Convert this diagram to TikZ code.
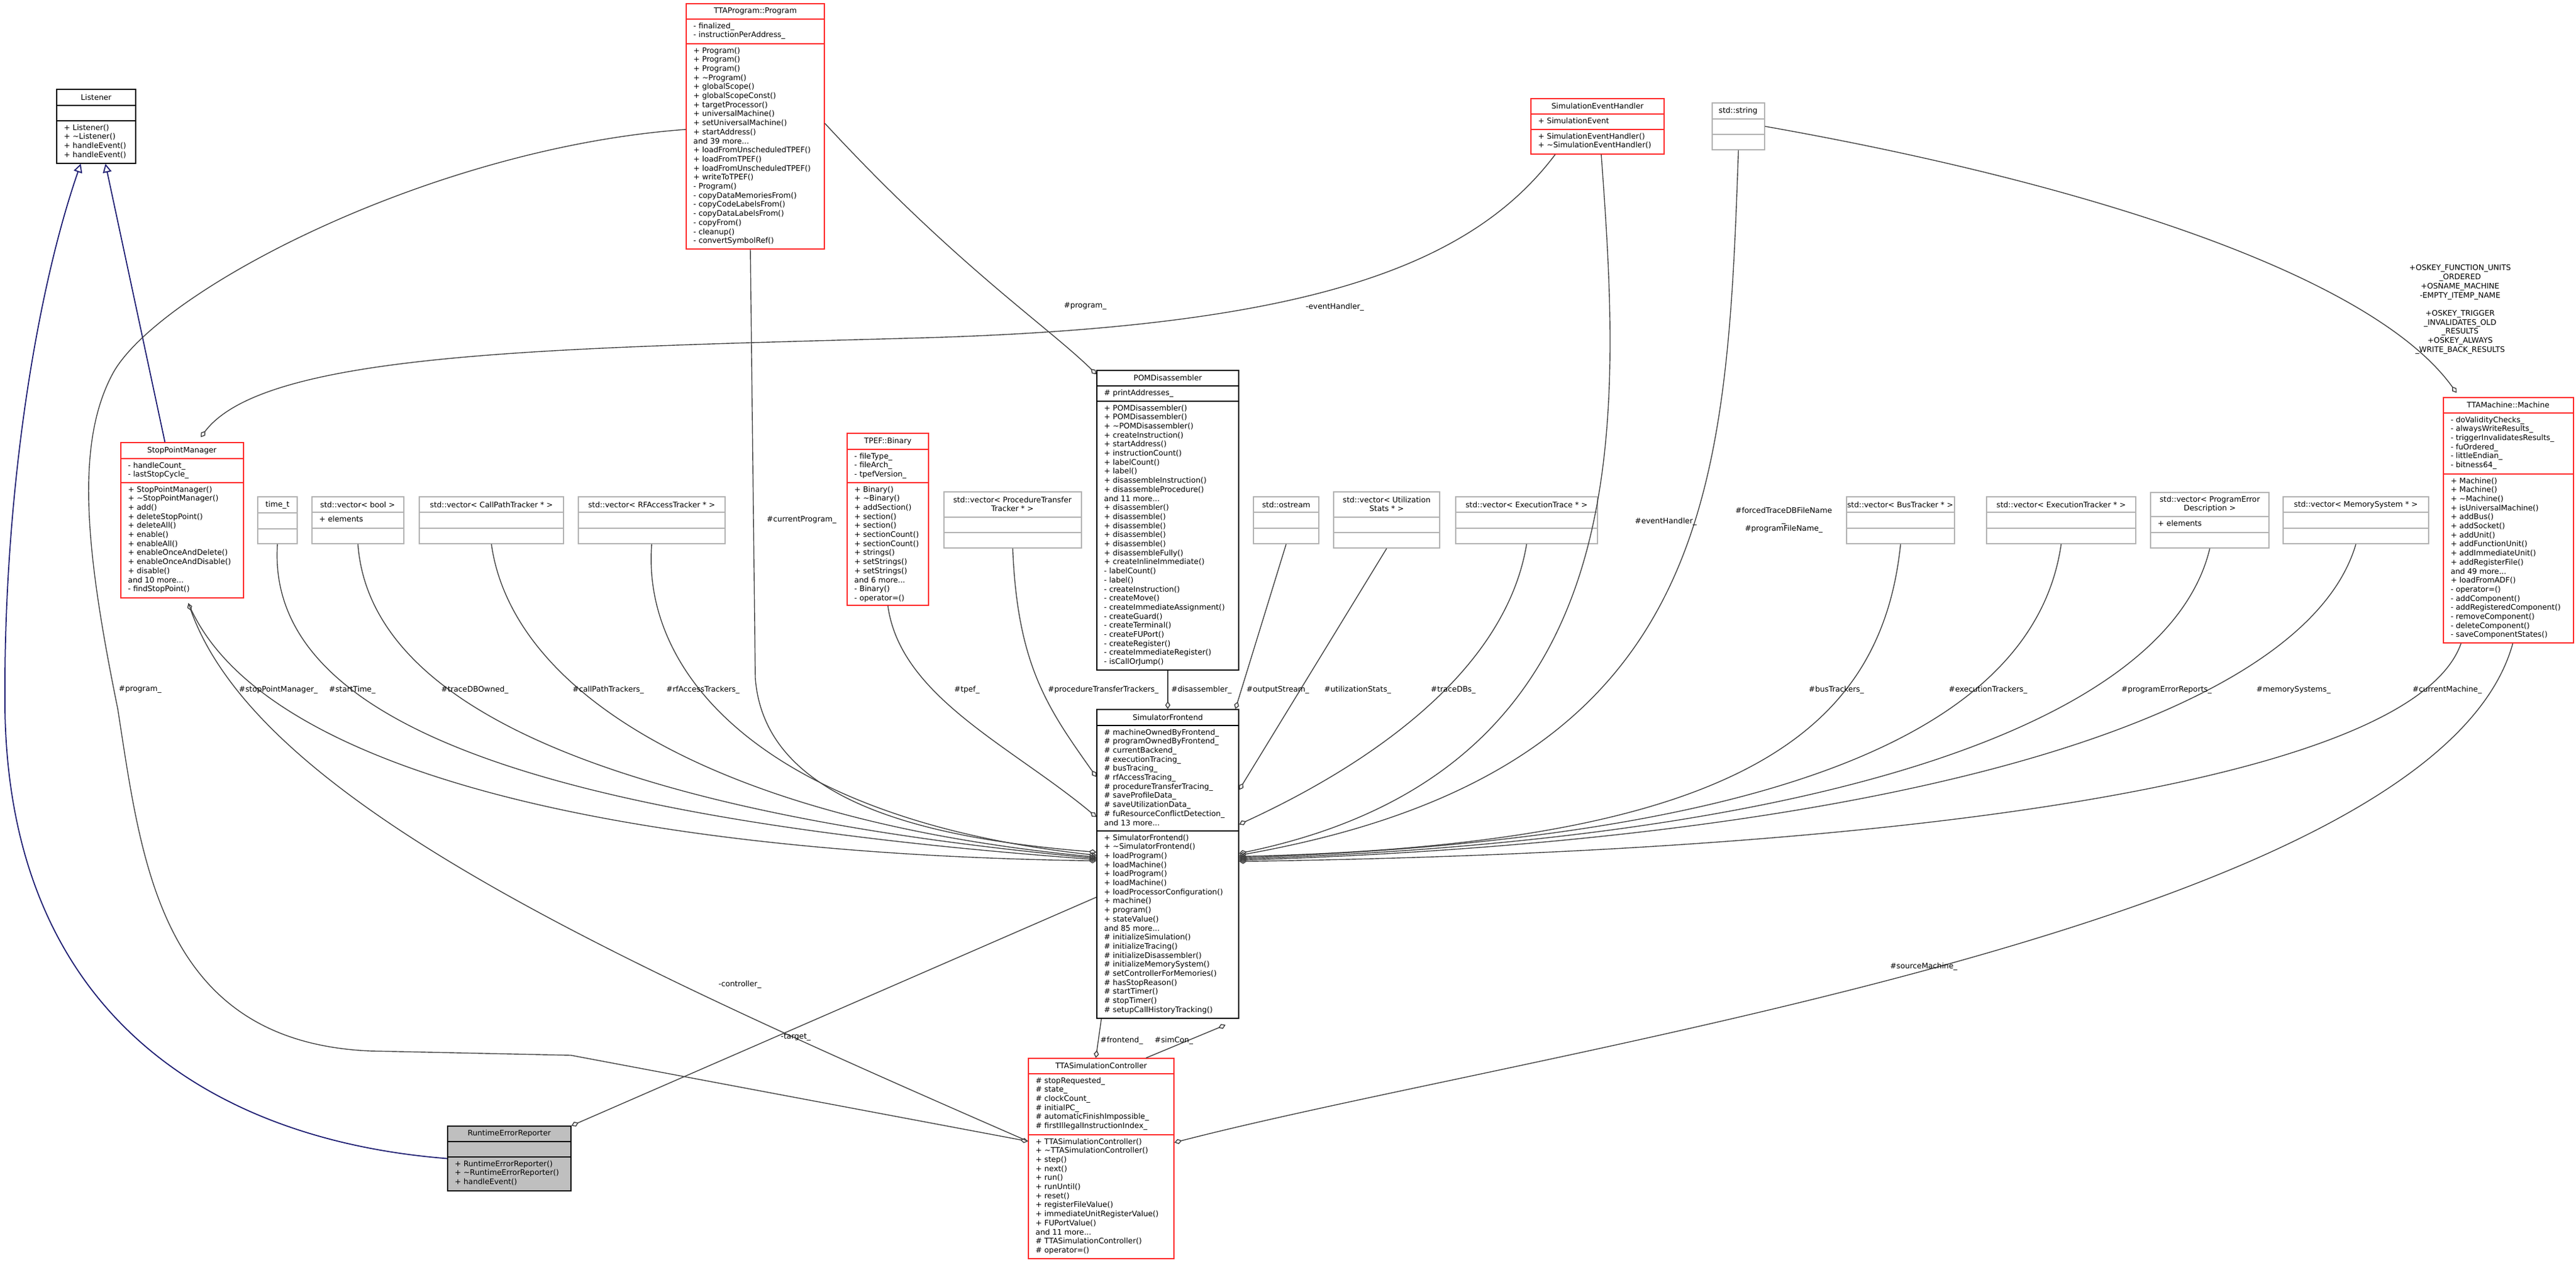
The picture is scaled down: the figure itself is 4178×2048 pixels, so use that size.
\documentclass[tikz,border=0pt]{standalone}
\usepackage{fontspec}
\setmainfont{DejaVu Sans}
\usetikzlibrary{arrows.meta,fit}

% class box: name, style, x1, y1, x2, y2, first and second separator
\newcommand{\umlclass}[8]{%
  \draw[#2] (#3,#4) rectangle (#5,#6) (#3,#7) -- (#5,#7) (#3,#8) -- (#5,#8);
  \node[inner sep=0pt, fit={(#3,#4) (#5,#6)}] (#1) {};}
\newcommand{\members}[4]{\node[mem] (#1) at ({#2+11},{#3+5}) {#4};}

\begin{document}
\begin{tikzpicture}[x=0.01cm, y=-0.01cm,
txt/.style={font=\fontsize{3.5pt}{4.18pt}\selectfont, inner sep=0pt, align=center},
mem/.style={txt, anchor=north west, align=left},
lbl/.style={txt, anchor=west},
redbox/.style={draw=boxred, line width=0.5pt},
graybox/.style={draw=black!30, line width=0.5pt},
blackbox/.style={draw=black, line width=0.5pt},
owns/.style={draw=black!75, line width=0.4pt, -{Diamond[open,length=3.6pt,width=2.4pt]}},
inherit/.style={draw=navyline, line width=0.5pt, -{Triangle[open,length=4pt,width=4pt]}}]

\definecolor{boxred}{RGB}{255,40,40}
\definecolor{navyline}{RGB}{25,25,112}
\useasboundingbox (0,0) rectangle (4178,2048);

% classes
\umlclass{listener}{blackbox}{92}{145}{220}{265}{171}{196}
\node[txt] (listener-h) at (156,158) {Listener};
\members{listener-m}{92}{196}{+ Listener()\\+ \textasciitilde Listener()\\+ handleEvent()\\+ handleEvent()}

\umlclass{spm}{redbox}{196}{718}{395}{970}{744}{783}
\node[txt] (spm-h) at (295,731) {StopPointManager};
\members{spm-a}{196}{744}{- handleCount\_\\- lastStopCycle\_}
\members{spm-m}{196}{783}{+ StopPointManager()\\+ \textasciitilde StopPointManager()\\+ add()\\+ deleteStopPoint()\\+ deleteAll()\\+ enable()\\+ enableAll()\\+ enableOnceAndDelete()\\+ enableOnceAndDisable()\\+ disable()\\and 10 more...\\- findStopPoint()}

\umlclass{program}{redbox}{1113}{6}{1337}{404}{31}{71}
\node[txt] (program-h) at (1225,18) {TTAProgram::Program};
\members{program-a}{1113}{31}{- finalized\_\\- instructionPerAddress\_}
\members{program-m}{1113}{71}{+ Program()\\+ Program()\\+ Program()\\+ \textasciitilde Program()\\+ globalScope()\\+ globalScopeConst()\\+ targetProcessor()\\+ universalMachine()\\+ setUniversalMachine()\\+ startAddress()\\and 39 more...\\+ loadFromUnscheduledTPEF()\\+ loadFromTPEF()\\+ loadFromUnscheduledTPEF()\\+ writeToTPEF()\\- Program()\\- copyDataMemoriesFrom()\\- copyCodeLabelsFrom()\\- copyDataLabelsFrom()\\- copyFrom()\\- cleanup()\\- convertSymbolRef()}

\umlclass{seh}{redbox}{2483}{160}{2699}{250}{185}{210}
\node[txt] (seh-h) at (2591,172) {SimulationEventHandler};
\members{seh-a}{2483}{185}{+ SimulationEvent}
\members{seh-m}{2483}{210}{+ SimulationEventHandler()\\+ \textasciitilde SimulationEventHandler()}

\umlclass{string}{graybox}{2777}{167}{2862}{243}{193}{218}
\node[txt] (string-h) at (2819,180) {std::string};

\umlclass{pom}{blackbox}{1779}{601}{2009}{1087}{626}{651}
\node[txt] (pom-h) at (1894,613) {POMDisassembler};
\members{pom-a}{1779}{626}{\# printAddresses\_}
\members{pom-m}{1779}{651}{+ POMDisassembler()\\+ POMDisassembler()\\+ \textasciitilde POMDisassembler()\\+ createInstruction()\\+ startAddress()\\+ instructionCount()\\+ labelCount()\\+ label()\\+ disassembleInstruction()\\+ disassembleProcedure()\\and 11 more...\\+ disassembler()\\+ disassemble()\\+ disassemble()\\+ disassemble()\\+ disassemble()\\+ disassembleFully()\\+ createInlineImmediate()\\- labelCount()\\- label()\\- createInstruction()\\- createMove()\\- createImmediateAssignment()\\- createGuard()\\- createTerminal()\\- createFUPort()\\- createRegister()\\- createImmediateRegister()\\- isCallOrJump()}

\umlclass{binary}{redbox}{1374}{703}{1506}{982}{729}{783}
\node[txt] (binary-h) at (1440,716) {TPEF::Binary};
\members{binary-a}{1374}{729}{- fileType\_\\- fileArch\_\\- tpefVersion\_}
\members{binary-m}{1374}{783}{+ Binary()\\+ \textasciitilde Binary()\\+ addSection()\\+ section()\\+ section()\\+ sectionCount()\\+ sectionCount()\\+ strings()\\+ setStrings()\\+ setStrings()\\and 6 more...\\- Binary()\\- operator=()}

\umlclass{timet}{graybox}{418}{806}{482}{882}{832}{858}
\node[txt] (timet-h) at (450,819) {time\_t};
\umlclass{vbool}{graybox}{506}{806}{655}{882}{831}{857}
\node[txt] (vbool-h) at (580,819) {std::vector< bool >};
\members{vbool-a}{506}{831}{+ elements}
\umlclass{vcall}{graybox}{680}{806}{914}{882}{831}{857}
\node[txt] (vcall-h) at (797,819) {std::vector< CallPathTracker * >};
\umlclass{vrf}{graybox}{938}{806}{1176}{882}{831}{857}
\node[txt] (vrf-h) at (1057,819) {std::vector< RFAccessTracker * >};
\umlclass{vproc}{graybox}{1531}{798}{1754}{889}{839}{864}
\node[txt] (vproc-h) at (1642,818) {std::vector< ProcedureTransfer\\Tracker * >};
\umlclass{ostream}{graybox}{2033}{806}{2139}{882}{831}{857}
\node[txt] (ostream-h) at (2086,819) {std::ostream};
\umlclass{vutil}{graybox}{2163}{798}{2335}{889}{839}{864}
\node[txt] (vutil-h) at (2249,818) {std::vector< Utilization\\Stats * >};
\umlclass{vtrace}{graybox}{2361}{806}{2591}{882}{831}{857}
\node[txt] (vtrace-h) at (2476,819) {std::vector< ExecutionTrace * >};
\umlclass{vbus}{graybox}{2995}{806}{3170}{882}{831}{857}
\node[txt] (vbus-h) at (3082,819) {std::vector< BusTracker * >};
\umlclass{vexec}{graybox}{3222}{806}{3464}{882}{831}{857}
\node[txt] (vexec-h) at (3343,819) {std::vector< ExecutionTracker * >};
\umlclass{verr}{graybox}{3488}{799}{3680}{889}{838}{864}
\node[txt] (verr-h) at (3584,818) {std::vector< ProgramError\\Description >};
\members{verr-a}{3488}{838}{+ elements}
\umlclass{vmem}{graybox}{3703}{806}{3939}{882}{831}{857}
\node[txt] (vmem-h) at (3821,819) {std::vector< MemorySystem * >};

\umlclass{machine}{redbox}{3963}{645}{4174}{1043}{670}{769}
\node[txt] (machine-h) at (4068,657) {TTAMachine::Machine};
\members{machine-a}{3963}{670}{- doValidityChecks\_\\- alwaysWriteResults\_\\- triggerInvalidatesResults\_\\- fuOrdered\_\\- littleEndian\_\\- bitness64\_}
\members{machine-m}{3963}{769}{+ Machine()\\+ Machine()\\+ \textasciitilde Machine()\\+ isUniversalMachine()\\+ addBus()\\+ addSocket()\\+ addUnit()\\+ addFunctionUnit()\\+ addImmediateUnit()\\+ addRegisterFile()\\and 49 more...\\+ loadFromADF()\\- operator=()\\- addComponent()\\- addRegisteredComponent()\\- removeComponent()\\- deleteComponent()\\- saveComponentStates()}

\umlclass{fe}{blackbox}{1779}{1151}{2009}{1652}{1177}{1348}
\node[txt] (fe-h) at (1894,1164) {SimulatorFrontend};
\members{fe-a}{1779}{1177}{\# machineOwnedByFrontend\_\\\# programOwnedByFrontend\_\\\# currentBackend\_\\\# executionTracing\_\\\# busTracing\_\\\# rfAccessTracing\_\\\# procedureTransferTracing\_\\\# saveProfileData\_\\\# saveUtilizationData\_\\\# fuResourceConflictDetection\_\\and 13 more...}
\members{fe-m}{1779}{1348}{+ SimulatorFrontend()\\+ \textasciitilde SimulatorFrontend()\\+ loadProgram()\\+ loadMachine()\\+ loadProgram()\\+ loadMachine()\\+ loadProcessorConfiguration()\\+ machine()\\+ program()\\+ stateValue()\\and 85 more...\\\# initializeSimulation()\\\# initializeTracing()\\\# initializeDisassembler()\\\# initializeMemorySystem()\\\# setControllerForMemories()\\\# hasStopReason()\\\# startTimer()\\\# stopTimer()\\\# setupCallHistoryTracking()}

\umlclass{ctrl}{redbox}{1668}{1717}{1904}{2042}{1742}{1841}
\node[txt] (ctrl-h) at (1786,1729) {TTASimulationController};
\members{ctrl-a}{1668}{1742}{\# stopRequested\_\\\# state\_\\\# clockCount\_\\\# initialPC\_\\\# automaticFinishImpossible\_\\\# firstIllegalInstructionIndex\_}
\members{ctrl-m}{1668}{1841}{+ TTASimulationController()\\+ \textasciitilde TTASimulationController()\\+ step()\\+ next()\\+ run()\\+ runUntil()\\+ reset()\\+ registerFileValue()\\+ immediateUnitRegisterValue()\\+ FUPortValue()\\and 11 more...\\\# TTASimulationController()\\\# operator=()}

\fill[black!25] (726,1827) rectangle (926,1932);
\umlclass{rer}{blackbox}{726}{1827}{926}{1932}{1852}{1877}
\node[txt] (rer-h) at (826,1839) {RuntimeErrorReporter};
\members{rer-m}{726}{1877}{+ RuntimeErrorReporter()\\+ \textasciitilde RuntimeErrorReporter()\\+ handleEvent()}

% inheritance
\draw[inherit] ([shift={(-28,0)}]spm.north) -- ([shift={(15,0)}]listener.south);
\draw[inherit] (rer.west) .. controls (350,1850) and (15,1650) .. (8,1150)
  .. controls (5,800) and (60,470) .. ([shift={(-25,0)}]listener.south);

% members
\draw[owns] ([shift={(40,0)}]seh.south west) .. controls (2380,440) and (2100,530) .. (1500,548)
  .. controls (900,565) and (430,570) .. ([shift={(30,-8)}]spm.north);
\draw[owns] ([shift={(0,5)}]program.west) .. controls (700,240) and (260,470) .. (184,604)
  .. controls (120,720) and (140,900) .. (191,1150) .. controls (230,1400) and (260,1690) .. (600,1705)
  -- (926,1712) -- ([shift={(0,-28)}]ctrl.west);
\draw[owns] ([shift={(0,-28)}]ctrl.west) .. controls (1000,1560) and (420,1300) .. ([shift={(10,8)}]spm.south);
\draw[owns] ([shift={(10,8)}]spm.south) .. controls (420,1250) and (1000,1385) .. ([shift={(0,-5)}]fe.west);
\draw[owns] (timet.south) .. controls (430,1180) and (900,1330) .. ([shift={(0,-7)}]fe.west);
\draw[owns] (vbool.south) .. controls (600,1150) and (1000,1320) .. ([shift={(0,-9)}]fe.west);
\draw[owns] (vcall.south) .. controls (830,1120) and (1150,1330) .. ([shift={(0,-11)}]fe.west);
\draw[owns] (vrf.south) .. controls (1040,1100) and (1250,1330) .. ([shift={(0,-14)}]fe.west);
\draw[owns] ([shift={(-8,0)}]program.south) -- (1225,1100) .. controls (1240,1300) and (1500,1360) .. ([shift={(0,-19)}]fe.west);
\draw[owns] (binary.south) .. controls (1460,1130) and (1640,1210) .. ([shift={(0,-76)}]fe.west);
\draw[owns] (vproc.south) .. controls (1650,1080) and (1700,1150) .. ([shift={(0,-141)}]fe.west);
\draw[owns] (pom.south) -- (fe.north);
\draw[owns] ([shift={(0,-5)}]program.east) .. controls (1550,430) and (1700,530) .. ([shift={(0,7)}]pom.north west);
\draw[owns] (ostream.south) -- ([shift={(-6,0)}]fe.north east);
\draw[owns] (vutil.south) -- ([shift={(0,-120)}]fe.east);
\draw[owns] (vtrace.south) .. controls (2440,1100) and (2200,1250) .. ([shift={(0,-64)}]fe.east);
\draw[owns] ([shift={(6,0)}]seh.south) .. controls (2630,700) and (2660,1250) .. ([shift={(0,-17)}]fe.east);
\draw[owns] (string.south) .. controls (2800,800) and (2780,1250) .. ([shift={(0,-14)}]fe.east);
\draw[owns] (vbus.south) .. controls (3050,1200) and (2800,1370) .. ([shift={(0,-12)}]fe.east);
\draw[owns] (vexec.south) .. controls (3300,1180) and (2900,1360) .. ([shift={(0,-10)}]fe.east);
\draw[owns] (verr.south) .. controls (3520,1160) and (3000,1360) .. ([shift={(0,-8)}]fe.east);
\draw[owns] (vmem.south) .. controls (3740,1160) and (3100,1360) .. ([shift={(0,-6)}]fe.east);
\draw[owns] ([shift={(-77,0)}]machine.south) .. controls (3920,1250) and (3200,1380) .. ([shift={(0,-4)}]fe.east);
\draw[owns] ([shift={(7,0)}]machine.south) .. controls (3950,1500) and (2500,1700) .. ([shift={(0,-26)}]ctrl.east);
\draw[owns] (string.east) .. controls (3400,300) and (3850,450) .. ([shift={(22,-7)}]machine.north west);
\draw[owns] ([shift={(8,0)}]fe.south west) -- ([shift={(110,0)}]ctrl.north west);
\draw[owns] ([shift={(-46,0)}]ctrl.north east) -- ([shift={(-22,10)}]fe.south east);
\draw[owns] ([shift={(0,54)}]fe.west) -- (rer.north east);

% labels
\node[txt] (l-eh) at (2165,498) {-eventHandler\_};
\node[txt] (l-pp) at (1760,497) {\#program\_};
\node[lbl] (l-prog) at (192,1119) {\#program\_};
\node[lbl] (l-spm) at (387,1119) {\#stopPointManager\_};
\node[lbl] (l-time) at (533,1119) {\#startTime\_};
\node[lbl] (l-tdb) at (715,1119) {\#traceDBOwned\_};
\node[lbl] (l-cpt) at (928,1119) {\#callPathTrackers\_};
\node[lbl] (l-rft) at (1080,1119) {\#rfAccessTrackers\_};
\node[lbl] (l-tpef) at (1547,1119) {\#tpef\_};
\node[lbl] (l-ptt) at (1699,1119) {\#procedureTransferTrackers\_};
\node[lbl] (l-dis) at (1899,1119) {\#disassembler\_};
\node[lbl] (l-out) at (2021,1119) {\#outputStream\_};
\node[lbl] (l-util) at (2147,1119) {\#utilizationStats\_};
\node[lbl] (l-tdbs) at (2320,1119) {\#traceDBs\_};
\node[lbl] (l-bus) at (2933,1119) {\#busTrackers\_};
\node[lbl] (l-exec) at (3160,1119) {\#executionTrackers\_};
\node[lbl] (l-err) at (3440,1119) {\#programErrorReports\_};
\node[lbl] (l-mem) at (3659,1119) {\#memorySystems\_};
\node[lbl] (l-mach) at (3912,1119) {\#currentMachine\_};
\node[lbl] (l-cprog) at (1243,843) {\#currentProgram\_};
\node[lbl] (l-feh) at (2651,846) {\#eventHandler\_};
\node[txt] (l-str) at (2893,844) {\#forcedTraceDBFileName\\\_\\\#programFileName\_};
\node[txt] (l-ctrl) at (1200,1597) {-controller\_};
\node[lbl] (l-tgt) at (1266,1683) {-target\_};
\node[txt] (l-src) at (3120,1568) {\#sourceMachine\_};
\node[lbl] (l-fe) at (1784,1688) {\#frontend\_};
\node[lbl] (l-sim) at (1872,1688) {\#simCon\_};
\node[txt] (l-os) at (3990,502) {+OSKEY\_FUNCTION\_UNITS\\\_ORDERED\\+OSNAME\_MACHINE\\-EMPTY\_ITEMP\_NAME\\[4.18pt]+OSKEY\_TRIGGER\\\_INVALIDATES\_OLD\\\_RESULTS\\+OSKEY\_ALWAYS\\\_WRITE\_BACK\_RESULTS};

\end{tikzpicture}
\end{document}
